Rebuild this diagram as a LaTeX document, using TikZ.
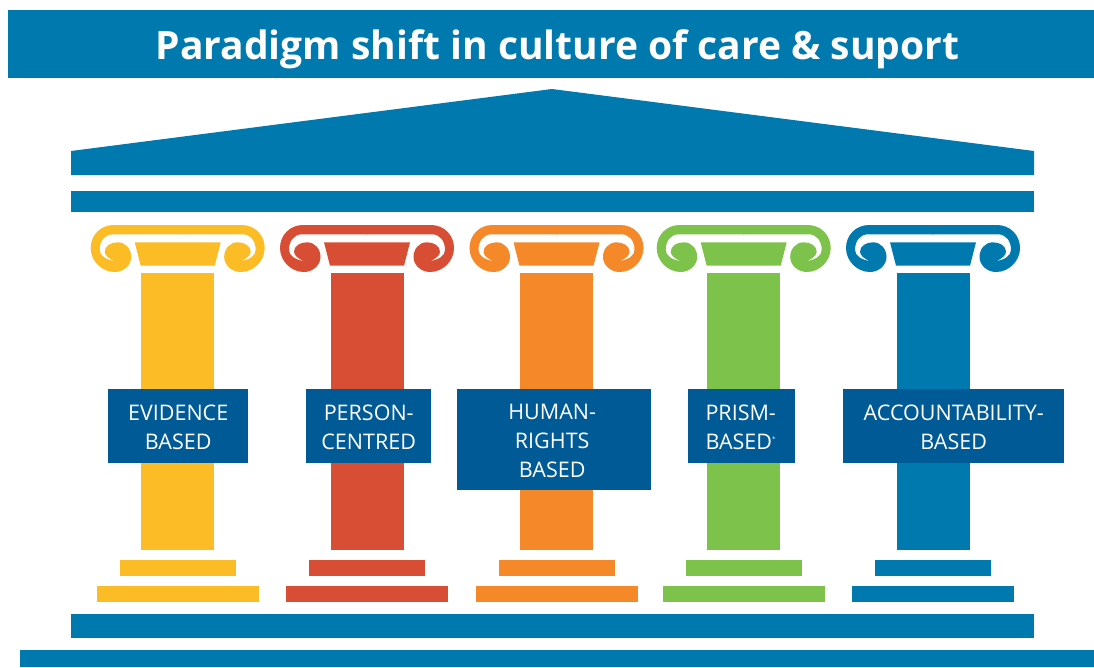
\documentclass[tikz,border=0pt]{standalone}
\usepackage{fontspec}
\setmainfont{Open Sans}
\definecolor{cblue}{HTML}{0079AE}
\definecolor{cdark}{HTML}{005A96}
\definecolor{cyellow}{HTML}{FBBC25}
\definecolor{cred}{HTML}{D84E35}
\definecolor{corange}{HTML}{F58829}
\definecolor{cgreen}{HTML}{7DC24A}
\newcommand{\halfcapital}[1]{%
  \fill[xscale=#1] (0.5,225) -- (-64,225) .. controls (-77,225) and (-87,235) .. (-87,248)
      .. controls (-87,261) and (-76,272) .. (-63,272)
      .. controls (-54,272) and (-46.5,265) .. (-46.5,257)
      .. controls (-46.5,249) and (-52,242.3) .. (-60,242.3)
      .. controls (-67,242.3) and (-73,246) .. (-73,251.7)
      .. controls (-73,255) and (-69,259) .. (-63,261)
      .. controls (-71,260) and (-78,256) .. (-78,250)
      .. controls (-78,241) and (-73,234.3) .. (-65,234.3)
      -- (0.5,234.3) -- cycle;}
\tikzset{
  column/.pic={
    \halfcapital{1}
    \halfcapital{-1}
    \fill (-43,242.3) -- (43,242.3) -- (37,265.7) -- (-37,265.7) -- cycle;
    \fill (-36.5,273) rectangle (36.5,549.5);
    \fill (-58,560) rectangle (58,575.5);
    \fill (-81,586) rectangle (81,602);
  },
  label box/.style={fill=cdark, draw=none, inner sep=0pt, anchor=north west},
  label text/.style={text=white, align=center, inner sep=0pt, yshift=-1pt, font=\fontsize{21.5}{29}\selectfont},
}
\begin{document}
\begin{tikzpicture}[x=1pt,y=-1pt]
\useasboundingbox (0,0) rectangle (1094,667);
\fill[cblue] (8,10) rectangle (1094,78);
\node[text=white, inner sep=0pt, font=\fontsize{39}{44}\bfseries\selectfont] (title) at (557.5,49.5) {Paradigm shift in culture of care \& suport};
\fill[cblue] (71,151) -- (552,89) -- (1034,151) -- (1034,175) -- (71,175) -- cycle;
\fill[cblue] (71,191) rectangle (1034,212);
\pic[cyellow] at (177.7,0) {column};
\pic[cred] at (367,0) {column};
\pic[corange] at (556.5,0) {column};
\pic[cgreen] at (743.7,0) {column};
\pic[cblue] at (933,0) {column};
\fill[cblue] (71,614) rectangle (1034,638);
\fill[cblue] (20,650) rectangle (1094,667);
\node[label box, minimum width=140pt, minimum height=74pt] (evidence) at (108,389) {};
\node[label text] (evidencet) at (evidence.center) {EVIDENCE\\BASED};
\node[label box, minimum width=125pt, minimum height=74pt] (person) at (306,389) {};
\node[label text] (persont) at (person.center) {PERSON-\\CENTRED};
\node[label box, minimum width=194pt, minimum height=101pt] (human) at (457,389) {};
\node[label text, xshift=-2pt] (humant) at (human.center) {HUMAN-\\RIGHTS\\BASED};
\node[label box, minimum width=107pt, minimum height=74pt] (prism) at (688,389) {};
\node[label text, xshift=-1pt] (prismt) at (prism.center) {PRISM-\\BASED\textsuperscript{\fontsize{6}{6}\selectfont *}};
\node[label box, minimum width=221pt, minimum height=74pt] (account) at (843,389) {};
\node[label text] (accountt) at (account.center) {ACCOUNTABILITY-\\BASED};
\end{tikzpicture}
\end{document}
